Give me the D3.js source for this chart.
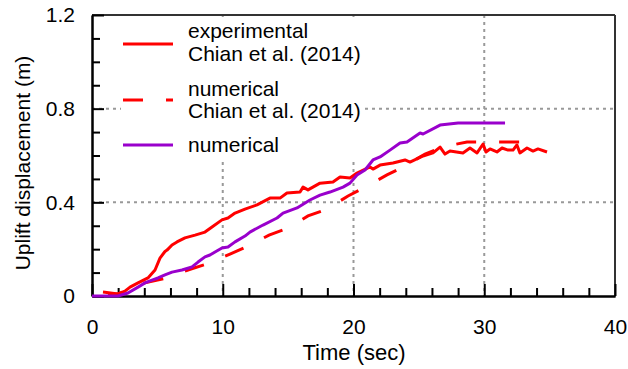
<!DOCTYPE html>
<html>
<head>
<meta charset="utf-8">
<script src="https://cdn.jsdelivr.net/npm/d3@7"></script>
<style>
  body { margin: 0; background: #fff; }
  svg text { font-family: "Liberation Sans", Arial, sans-serif; fill: #000; }
</style>
</head>
<body>
<svg id="chart" width="628" height="369"></svg>
<script>

//////////////////////
// Data
//////////////////////

// experimental, Chian et al. (2014)
var expTime = [1.22, 1.99, 2.52, 2.91, 3.52, 4.28, 4.82, 5.20, 5.58, 5.74, 6.12, 6.50, 7.11, 7.88, 8.64, 9.18, 9.94,
    10.40, 10.94, 11.70, 12.62, 13.61, 14.38, 14.91, 15.91, 16.14, 16.52, 17.44, 18.43, 18.97, 19.73, 20.27,
    21.26, 21.49, 22.03, 23.02, 23.94, 24.32, 25.32, 26.08, 26.62, 27.00, 27.38, 28.37, 28.91, 29.45, 29.91,
    30.13, 30.44, 30.97, 31.36, 31.82, 32.20, 32.50, 32.73, 33.27, 33.73, 34.11, 34.80];
var expDisp = [0.009, 0.009, 0.021, 0.038, 0.056, 0.077, 0.111, 0.162, 0.190, 0.196, 0.218, 0.231, 0.248, 0.260, 0.273, 0.295, 0.325,
    0.333, 0.354, 0.371, 0.389, 0.418, 0.418, 0.440, 0.444, 0.465, 0.453, 0.482, 0.487, 0.508, 0.504, 0.525,
    0.551, 0.542, 0.559, 0.568, 0.581, 0.572, 0.598, 0.611, 0.636, 0.606, 0.619, 0.611, 0.632, 0.611, 0.649,
    0.615, 0.628, 0.615, 0.632, 0.623, 0.623, 0.645, 0.611, 0.632, 0.619, 0.628, 0.615];

// numerical, Chian et al. (2014)
var chianTime = [0.84, 1.99, 4.05, 5.74, 7.34, 8.80, 10.55, 11.93, 13.54, 14.99, 16.52, 17.97, 19.58, 20.88,
    22.56, 23.79, 25.47, 26.77, 28.68, 30.06, 31.97, 33.50];
var chianDisp = [0.017, 0.009, 0.056, 0.077, 0.111, 0.137, 0.179, 0.213, 0.260, 0.290, 0.342, 0.371, 0.427, 0.465,
    0.517, 0.551, 0.606, 0.636, 0.658, 0.658, 0.658, 0.658];

// numerical (this study)
var numTime = [0, 0.99, 1.99, 2.75, 3.52, 4.05, 4.59, 5.05, 5.58, 6.12, 6.88, 7.65, 8.11, 8.64, 9.02, 9.41, 9.94,
    10.40, 10.94, 11.70, 12.08, 13.08, 14.15, 14.61, 15.68, 16.67, 17.44, 18.20, 19.20, 19.73, 20.27, 20.88,
    21.49, 22.03, 22.79, 23.56, 24.09, 25.09, 25.32, 26.62, 28.00, 28.91, 31.59];
var numDisp = [0, 0, 0, 0.013, 0.038, 0.056, 0.068, 0.077, 0.090, 0.102, 0.111, 0.124, 0.145, 0.167, 0.175, 0.188, 0.205,
    0.209, 0.231, 0.256, 0.273, 0.303, 0.333, 0.354, 0.376, 0.410, 0.431, 0.444, 0.465, 0.482, 0.517, 0.538,
    0.581, 0.594, 0.623, 0.653, 0.658, 0.696, 0.692, 0.730, 0.739, 0.739, 0.739];

var xTicks = [0, 10, 20, 30, 40];
var xMinorTicks = [2, 4, 6, 8, 12, 14, 16, 18, 22, 24, 26, 28, 32, 34, 36, 38];
var yTicks = [0, 0.4, 0.8, 1.2];
var yTickLabels = ["0", "0.4", "0.8", "1.2"];
var yMinorTicks = [0.1, 0.2, 0.3, 0.5, 0.6, 0.7, 0.9, 1.0, 1.1];
var xGrid = [10, 20, 30];
var yGrid = [0.4, 0.8];

var legendLabels = [["experimental", "Chian et al. (2014)"], ["numerical", "Chian et al. (2014)"], ["numerical"]];

//////////////////////
// Layout
//////////////////////

var svg = d3.select("#chart");
var plotLeft = 92, plotRight = 615, plotTop = 15, plotBottom = 296;

var x = d3.scaleLinear().domain([0, 40]).range([plotLeft, plotRight]);
var y = d3.scaleLinear().domain([0, 1.2]).range([plotBottom, plotTop]);

function zip(ts, vs) { return ts.map(function(t, i) { return [t, vs[i]]; }); }

var line = d3.line()
    .x(function(d) { return x(d[0]); })
    .y(function(d) { return y(d[1]); });

//////////////////////
// Grid
//////////////////////

var grid = svg.append("g").attr("class", "grid")
    .attr("stroke", "#999").attr("stroke-width", 2).attr("stroke-dasharray", "3,4");

grid.selectAll("line.vx").data(xGrid).enter().append("line")
    .attr("x1", function(d) { return x(d); }).attr("x2", function(d) { return x(d); })
    .attr("y1", plotTop).attr("y2", plotBottom);

grid.selectAll("line.hy").data(yGrid).enter().append("line")
    .attr("y1", function(d) { return y(d); }).attr("y2", function(d) { return y(d); })
    .attr("x1", plotLeft).attr("x2", plotRight);

//////////////////////
// Frame + axes
//////////////////////

svg.append("line").attr("x1", plotLeft).attr("x2", plotRight).attr("y1", plotTop).attr("y2", plotTop)
    .attr("stroke", "#333").attr("stroke-width", 2);
svg.append("line").attr("x1", plotRight).attr("x2", plotRight).attr("y1", plotTop).attr("y2", plotBottom)
    .attr("stroke", "#333").attr("stroke-width", 2);

var xAxis = svg.append("g").attr("transform", "translate(0," + plotBottom + ")")
    .call(d3.axisBottom(x).tickValues(xTicks).tickSizeInner(-12).tickSizeOuter(0).tickFormat(d3.format("d")));
var xMinor = svg.append("g").attr("transform", "translate(0," + plotBottom + ")")
    .call(d3.axisBottom(x).tickValues(xMinorTicks).tickSizeInner(-8).tickSizeOuter(0).tickFormat(""));

var yAxis = svg.append("g").attr("transform", "translate(" + plotLeft + ",0)")
    .call(d3.axisLeft(y).tickValues(yTicks).tickSizeInner(-12).tickSizeOuter(0)
        .tickFormat(function(d, i) { return yTickLabels[i]; }));
var yMinor = svg.append("g").attr("transform", "translate(" + plotLeft + ",0)")
    .call(d3.axisLeft(y).tickValues(yMinorTicks).tickSizeInner(-8).tickSizeOuter(0).tickFormat(""));

[xAxis, xMinor, yAxis, yMinor].forEach(function(a) {
    a.selectAll("path.domain").attr("stroke", "#000").attr("stroke-width", 2);
    a.selectAll(".tick line").attr("stroke", "#000").attr("stroke-width", 2);
    a.selectAll(".tick text").attr("font-size", 21).attr("font-family", "Liberation Sans, Arial, sans-serif");
});
xAxis.selectAll(".tick text").attr("y", 23).attr("dy", "0.71em");
yAxis.selectAll(".tick text").attr("x", -17);

svg.append("text").attr("x", 354).attr("y", 360).attr("text-anchor", "middle")
    .attr("font-size", 22).text("Time (sec)");
svg.append("text").attr("transform", "translate(30,163) rotate(-90)").attr("text-anchor", "middle")
    .attr("font-size", 21).text("Uplift displacement (m)");

//////////////////////
// Legend
//////////////////////

svg.append("rect").attr("x", 121).attr("y", 17).attr("width", 243).attr("height", 142).attr("fill", "#fff");

var legendSamples = [
    { y: 44, color: "#ff0000", dash: null, text: [38, 61] },
    { y: 100, color: "#ff0000", dash: "20,23", text: [96, 118] },
    { y: 145, color: "#9900cc", dash: null, text: [152] }
];

var legend = svg.append("g").attr("class", "legend");
legendSamples.forEach(function(s, i) {
    legend.append("line").attr("x1", 123).attr("x2", 173).attr("y1", s.y).attr("y2", s.y)
        .attr("stroke", s.color).attr("stroke-width", 3).attr("stroke-dasharray", s.dash);
    legendLabels[i].forEach(function(t, j) {
        legend.append("text").attr("x", 188).attr("y", s.text[j]).attr("font-size", 21).text(t);
    });
});

//////////////////////
// Series
//////////////////////

svg.append("path").datum(zip(chianTime, chianDisp))
    .attr("fill", "none").attr("stroke", "#ff0000").attr("stroke-width", 3)
    .attr("stroke-dasharray", "20,23").attr("d", line);

svg.append("path").datum(zip(expTime, expDisp))
    .attr("fill", "none").attr("stroke", "#ff0000").attr("stroke-width", 3)
    .attr("stroke-linejoin", "round").attr("d", line);

svg.append("path").datum(zip(numTime, numDisp))
    .attr("fill", "none").attr("stroke", "#9900cc").attr("stroke-width", 3)
    .attr("stroke-linejoin", "round").attr("d", line);

</script>
</body>
</html>
